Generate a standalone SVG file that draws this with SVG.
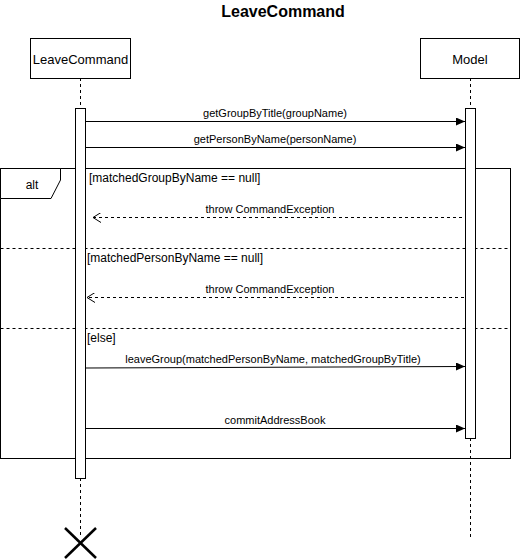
<svg xmlns="http://www.w3.org/2000/svg" width="521" height="560" viewBox="0 0 521 560">
<style>
text{font-family:"Liberation Sans",Arial,sans-serif;fill:#000}
.title{font-size:16px;font-weight:bold;text-anchor:middle}
.obj{font-size:13px;text-anchor:middle}
.msg{font-size:11px;text-anchor:middle}
.guard{font-size:12px}
.box{fill:#fff;stroke:#000;stroke-width:1}
.life{stroke:#000;stroke-width:1;stroke-dasharray:3,3;fill:none}
.call{stroke:#000;stroke-width:1;fill:none;marker-end:url(#solid)}
.ret{stroke:#000;stroke-width:1;stroke-dasharray:3,3;fill:none;marker-end:url(#open)}
.div{stroke:#000;stroke-width:1;stroke-dasharray:3,3;fill:none}
</style>
<defs>
<marker id="solid" markerWidth="10" markerHeight="8" refX="9" refY="4" orient="auto" markerUnits="userSpaceOnUse">
<path d="M0,0 L9,4 L0,8 Z" fill="#000"/>
</marker>
<marker id="open" markerWidth="10" markerHeight="10" refX="9" refY="5" orient="auto" markerUnits="userSpaceOnUse">
<path d="M1,0 L9,5 L1,10" fill="none" stroke="#000" stroke-width="1"/>
</marker>
</defs>
<rect width="521" height="560" fill="#fff"/>
<text class="title" x="283" y="17">LeaveCommand</text>

<g id="lifelines">
<line class="life" x1="80.5" y1="78" x2="80.5" y2="108"/>
<line class="life" x1="80.5" y1="478" x2="80.5" y2="537"/>
<line class="life" x1="470.5" y1="78" x2="470.5" y2="108"/>
<line class="life" x1="470.5" y1="438" x2="470.5" y2="538"/>
</g>

<g id="alt-fragment">
<rect x="0.5" y="168.5" width="510" height="290" fill="none" stroke="#000"/>
<path d="M0.5,168.5 H60.5 V180 L51,198.5 H0.5 Z" fill="#fff" stroke="#000"/>
<text class="guard" x="32" y="189" text-anchor="middle">alt</text>
<line class="div" x1="0.5" y1="248.5" x2="510.5" y2="248.5"/>
<line class="div" x1="0.5" y1="328.5" x2="510.5" y2="328.5"/>
<text class="guard" x="89" y="182">[matchedGroupByName == null]</text>
<text class="guard" x="87" y="262">[matchedPersonByName == null]</text>
<text class="guard" x="87" y="342">[else]</text>
</g>

<g id="LeaveCommand">
<rect class="box" x="30.5" y="38.5" width="100" height="40"/>
<text class="obj" x="80.5" y="64">LeaveCommand</text>
<rect class="box" x="75.5" y="108.5" width="10" height="370"/>
<line x1="65" y1="528" x2="96" y2="558" stroke="#000" stroke-width="2.5"/>
<line x1="96" y1="528" x2="65" y2="558" stroke="#000" stroke-width="2.5"/>
</g>

<g id="Model">
<rect class="box" x="420.5" y="38.5" width="99" height="40"/>
<text class="obj" x="470" y="64">Model</text>
<rect class="box" x="465.5" y="108.5" width="10" height="330"/>
</g>

<g id="connectors">
<line class="call" x1="86" y1="121.5" x2="465" y2="121.5"/>
<text class="msg" x="275" y="117">getGroupByTitle(groupName)</text>
<line class="call" x1="86" y1="147.5" x2="465" y2="147.5"/>
<text class="msg" x="275" y="143">getPersonByName(personName)</text>
<line class="ret" x1="462" y1="217.5" x2="93" y2="217.5"/>
<text class="msg" x="270" y="213">throw CommandException</text>
<line class="ret" x1="464" y1="297.5" x2="87" y2="297.5"/>
<text class="msg" x="270" y="293">throw CommandException</text>
<line class="call" x1="86" y1="368" x2="465" y2="366.5"/>
<text class="msg" x="273" y="363">leaveGroup(matchedPersonByName, matchedGroupByTitle)</text>
<line class="call" x1="86" y1="428.5" x2="465" y2="428.5"/>
<text class="msg" x="275" y="424">commitAddressBook</text>
</g>
</svg>
